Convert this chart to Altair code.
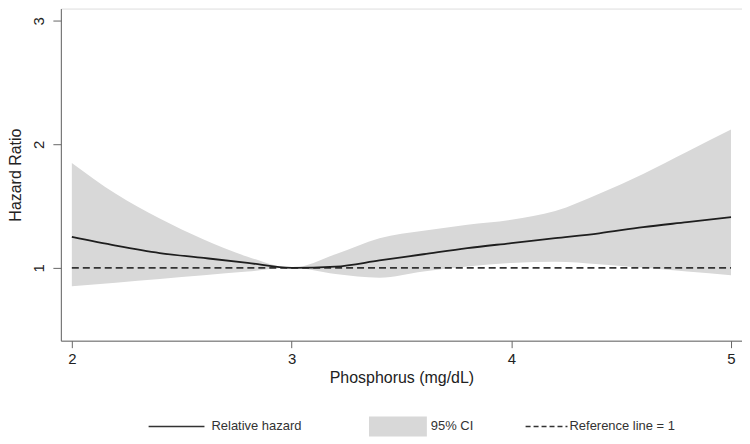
import altair as alt
import pandas as pd

phosphorus = [2.0, 2.2, 2.4, 2.6, 2.8, 3.0, 3.2, 3.4, 3.6, 3.8, 4.0, 4.2, 4.4, 4.6, 4.8, 5.0]
hazard = [1.25, 1.18, 1.12, 1.08, 1.04, 1.00, 1.01, 1.06, 1.11, 1.16, 1.20, 1.24, 1.28, 1.33, 1.37, 1.41]
ci_low = [0.85, 0.88, 0.91, 0.94, 0.97, 1.00, 0.95, 0.92, 0.97, 1.01, 1.04, 1.05, 1.03, 1.00, 0.97, 0.94]
ci_high = [1.85, 1.60, 1.40, 1.23, 1.09, 1.00, 1.11, 1.24, 1.30, 1.35, 1.39, 1.46, 1.60, 1.76, 1.94, 2.12]
reference = [1.0] * len(phosphorus)

x_ticks = [2, 3, 4, 5]
y_ticks = [1, 2, 3]
legend_labels = ["Relative hazard", "95% CI", "Reference line = 1"]

df = pd.DataFrame({"x": phosphorus, "hr": hazard, "lo": ci_low, "hi": ci_high, "ref": reference})

FONT = "Liberation Sans"
W, H = 683, 333

xs = alt.Scale(domain=[1.95, 5.05], nice=False, zero=False)
ys = alt.Scale(domain=[0.41, 3.1], nice=False, zero=False)

xaxis = alt.Axis(values=x_ticks, format="d", title="Phosphorus (mg/dL)", grid=False, tickSize=7,
                 labelFontSize=15, titleFontSize=16, labelPadding=4, titlePadding=3,
                 domainColor="#666", tickColor="#666", labelColor="#222", titleColor="#222",
                 titleFontWeight="normal", labelFont=FONT, titleFont=FONT)
yaxis = alt.Axis(values=y_ticks, format="d", title="Hazard Ratio", grid=False, tickSize=8,
                 labelAngle=270, labelFontSize=15, titleFontSize=16, labelPadding=6, titlePadding=8,
                 domainColor="#666", tickColor="#666", labelColor="#222", titleColor="#222",
                 titleFontWeight="normal", labelFont=FONT, titleFont=FONT)

base = alt.Chart(df)

band = base.mark_area(color="#d8d8d8", opacity=1, interpolate="monotone").encode(
    x=alt.X("x:Q", scale=xs, axis=xaxis),
    y=alt.Y("lo:Q", scale=ys, axis=yaxis),
    y2="hi:Q",
)
refline = base.mark_line(color="#333", strokeWidth=1.6, strokeDash=[7, 4]).encode(
    x=alt.X("x:Q", scale=xs), y=alt.Y("ref:Q", scale=ys)
)
line = base.mark_line(color="#1e1e1e", strokeWidth=1.8, interpolate="monotone").encode(
    x=alt.X("x:Q", scale=xs), y=alt.Y("hr:Q", scale=ys)
)

# legend drawn below the plot
LY = 419
leg_df = pd.DataFrame({"a": [0]})
lg = alt.Chart(leg_df)
leg_line = lg.mark_rule(color="#333", strokeWidth=1.6).encode(
    x=alt.value(88), x2=alt.value(144), y=alt.value(LY))
leg_box = lg.mark_rect(color="#d8d8d8").encode(
    x=alt.value(309), x2=alt.value(367), y=alt.value(LY - 10), y2=alt.value(LY + 10))
leg_dash = lg.mark_rule(color="#333", strokeWidth=1.4, strokeDash=[5, 3]).encode(
    x=alt.value(466), x2=alt.value(508), y=alt.value(LY))
leg_text = alt.Chart(pd.DataFrame({"t": legend_labels, "px": [151, 371, 510]})).mark_text(
    align="left", baseline="middle", fontSize=13, font=FONT, color="#333"
).encode(x=alt.X("px:Q", scale=None), y=alt.value(LY), text="t:N")

chart = alt.layer(band, refline, line, leg_line, leg_box, leg_dash, leg_text).properties(
    width=W, height=H, padding={"left": 0, "top": 0, "right": 0, "bottom": 0}
).configure_view(stroke=None).configure(background="white")

chart.save("out.html", embed_options={"renderer": "svg", "actions": False})
